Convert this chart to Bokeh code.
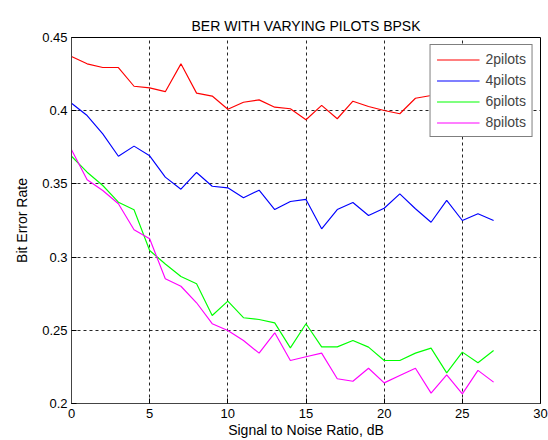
from bokeh.plotting import figure
from bokeh.models import FixedTicker, Range1d
from bokeh.embed import file_html
from bokeh.resources import INLINE

snr = list(range(0, 28))
ber_2 = [0.437, 0.432, 0.4295, 0.4295, 0.4167, 0.4156, 0.413, 0.432, 0.412, 0.410,
         0.401, 0.4058, 0.4074, 0.4024, 0.4013, 0.3938, 0.4036, 0.3945, 0.4065, 0.4029,
         0.4001, 0.3979, 0.4085, 0.4104, 0.412, 0.409, 0.411, 0.410]
ber_4 = [0.4051, 0.3967, 0.3842, 0.3689, 0.3758, 0.3692, 0.3546, 0.3464, 0.3578, 0.3484,
         0.3473, 0.3405, 0.3457, 0.3325, 0.338, 0.3394, 0.3193, 0.3325, 0.3373, 0.3284,
         0.3334, 0.3432, 0.333, 0.3238, 0.3387, 0.325, 0.3296, 0.325]
ber_6 = [0.3689, 0.358, 0.3489, 0.3375, 0.3323, 0.3045, 0.2953, 0.2867, 0.2818, 0.2601,
         0.2699, 0.2586, 0.2574, 0.2551, 0.238, 0.2545, 0.2387, 0.2387, 0.243, 0.2385,
         0.2294, 0.2294, 0.2344, 0.2378, 0.2209, 0.2351, 0.2278, 0.2362]
ber_8 = [0.3733, 0.3528, 0.3455, 0.3364, 0.3187, 0.3125, 0.2852, 0.2801, 0.2688, 0.2545,
         0.2499, 0.243, 0.2344, 0.2483, 0.2294, 0.2319, 0.2344, 0.2169, 0.2152, 0.2241,
         0.2141, 0.2191, 0.2241, 0.2071, 0.2195, 0.2066, 0.2226, 0.2146]

series_names = ["2pilots", "4pilots", "6pilots", "8pilots"]
series_colors = ["#ff0000", "#0000ff", "#00ff00", "#ff00ff"]

x_ticks = [0, 5, 10, 15, 20, 25, 30]
y_ticks = [0.2, 0.25, 0.3, 0.35, 0.4, 0.45]
y_tick_labels = ["0.2", "0.25", "0.3", "0.35", "0.4", "0.45"]

FONT = "Liberation Sans"

p = figure(width=548, height=440, output_backend="svg", toolbar_location=None,
           x_range=Range1d(0, 30), y_range=Range1d(0.2, 0.45),
           min_border_left=71, min_border_right=8, min_border_top=37, min_border_bottom=37)

p.title.text = "BER WITH VARYING PILOTS BPSK"
p.title.align = "center"
p.title.text_font = FONT
p.title.text_font_size = "14px"
p.title.text_font_style = "normal"
p.title.text_color = "black"
p.title.standoff = 7

p.outline_line_color = "black"
p.outline_line_width = 1

for ax in (p.xaxis, p.yaxis):
    ax.major_label_text_font = FONT
    ax.major_label_text_font_size = "13px"
    ax.major_label_text_color = "black"
    ax.axis_label_text_font = FONT
    ax.axis_label_text_font_size = "14px"
    ax.axis_label_text_font_style = "normal"
    ax.axis_label_text_color = "black"
    ax.major_tick_in = 5
    ax.major_tick_out = 0
    ax.minor_tick_line_color = None
    ax.axis_line_color = "#444444"
    ax.major_tick_line_color = "black"

p.xaxis.ticker = FixedTicker(ticks=x_ticks)
p.yaxis.ticker = FixedTicker(ticks=y_ticks)
p.yaxis.major_label_overrides = {v: s for v, s in zip(y_ticks, y_tick_labels)}
p.xaxis.axis_label = "Signal to Noise Ratio, dB"
p.yaxis.axis_label = "Bit Error Rate"
p.xaxis.major_label_standoff = 5
p.xaxis.axis_label_standoff = 1
p.yaxis.major_label_standoff = 4
p.yaxis.axis_label_standoff = 9

for g in (p.xgrid, p.ygrid):
    g.grid_line_color = "black"
    g.grid_line_dash = "3 3"
    g.grid_line_alpha = 0.85

for name, col, ys in zip(series_names, series_colors, [ber_2, ber_4, ber_6, ber_8]):
    p.line(snr, ys, line_color=col, line_width=1.15, legend_label=name)

legend = p.legend[0]
legend.location = "top_right"
legend.border_line_color = "black"
legend.border_line_width = 1
legend.background_fill_alpha = 1
legend.label_text_font = FONT
legend.label_text_font_size = "14px"
legend.glyph_width = 43
legend.glyph_height = 15
legend.label_height = 15
legend.spacing = 5
legend.padding = 6
legend.margin = 7
legend.label_standoff = 6

open("out.html", "w").write(file_html(p, INLINE))
